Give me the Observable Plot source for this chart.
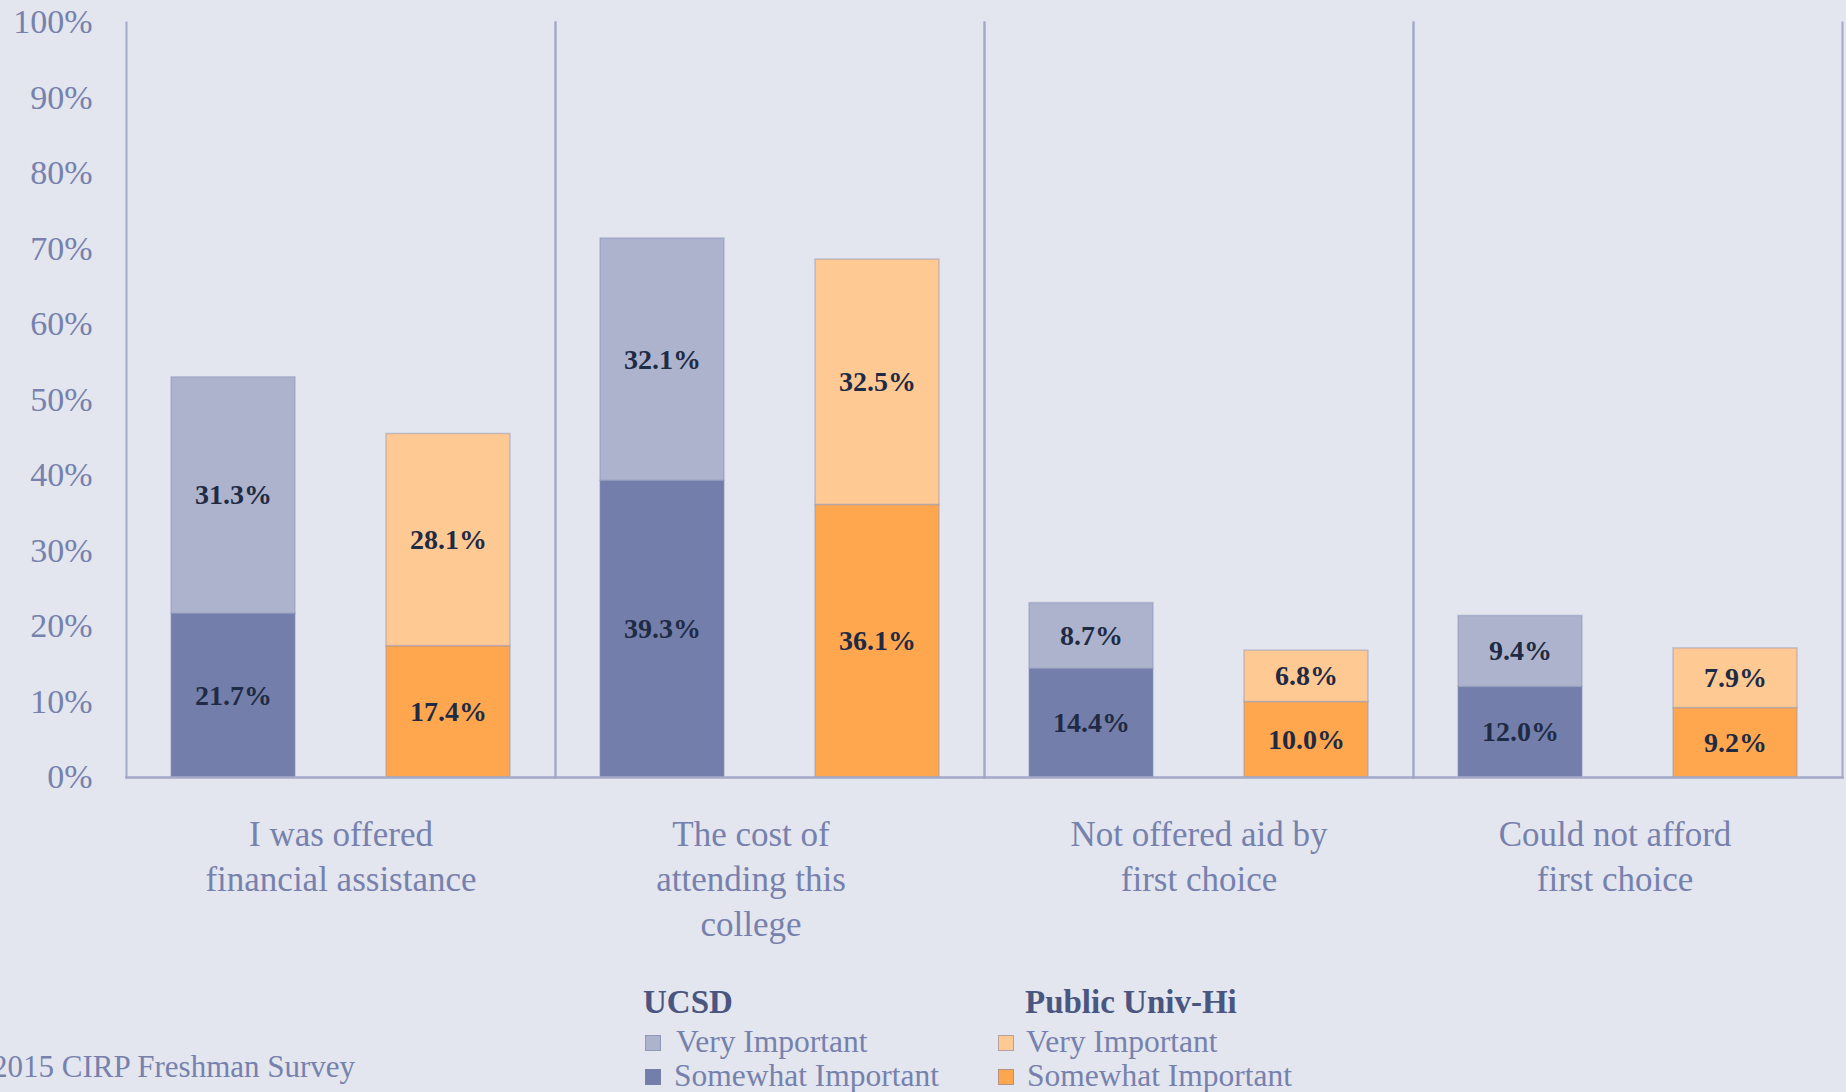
<!DOCTYPE html>
<html>
<head>
<meta charset="utf-8">
<script src="https://cdn.jsdelivr.net/npm/d3@7"></script>
<script src="https://cdn.jsdelivr.net/npm/@observablehq/plot@0.6"></script>
<style>
  html, body { margin: 0; padding: 0; background: #E3E6EE; overflow: hidden; }
  body { width: 1846px; height: 1092px; font-family: "Liberation Serif", serif; }
  #legend { position: relative; width: 1846px; height: 132px; color: #7681AD; }
  #legend div { position: absolute; white-space: nowrap; }
  .hdr { font-weight: bold; font-size: 33px; color: #4A5580; line-height: 36px; }
  .item { font-size: 31.5px; line-height: 34px; }
  .sw { width: 16px; height: 16px; box-sizing: border-box; border: 1px solid rgba(120,130,170,0.55); }
  .cap { font-size: 31px; line-height: 36px; }
</style>
</head>
<body>
<div id="chart"></div>
<div id="legend"></div>
<script>
const categories = [
  "I was offered\nfinancial assistance",
  "The cost of\nattending this\ncollege",
  "Not offered aid by\nfirst choice",
  "Could not afford\nfirst choice"
];
const schools = ["UCSD", "Public Univ-Hi"];
const levels = ["Somewhat Important", "Very Important"];
const ucsdSomewhat = [21.7, 39.3, 14.4, 12.0];
const ucsdVery = [31.3, 32.1, 8.7, 9.4];
const publicSomewhat = [17.4, 36.1, 10.0, 9.2];
const publicVery = [28.1, 32.5, 6.8, 7.9];
const yTicks = [0, 10, 20, 30, 40, 50, 60, 70, 80, 90, 100];

const colorKeys = ["UCSD|Somewhat Important", "UCSD|Very Important", "Public Univ-Hi|Somewhat Important", "Public Univ-Hi|Very Important"];
const colorRange = ["#737FAA", "#ADB3CC", "#FFA74F", "#FFC994"];

const series = {
  "UCSD": {"Somewhat Important": ucsdSomewhat, "Very Important": ucsdVery},
  "Public Univ-Hi": {"Somewhat Important": publicSomewhat, "Very Important": publicVery}
};
const rows = [];
categories.forEach((c, i) => {
  schools.forEach(s => {
    levels.forEach(l => {
      rows.push({category: c, school: s, level: l, key: s + "|" + l, value: series[s][l][i]});
    });
  });
});

const lineColor = "#A3A9C6";
const textColor = "#7681AD";
// small horizontal nudges of the category labels (layout only)
const labelNudge = [0, -19, 0, -13];

const categoryLabelMarks = categories.map((c, i) =>
  Plot.text([c], {
    fx: d => d, text: d => d, frameAnchor: "bottom", lineAnchor: "top",
    dy: 36, dx: labelNudge[i], fontSize: 35, lineHeight: 1.29, fill: textColor
  })
);

const chart = Plot.plot({
  width: 1846,
  height: 960,
  marginLeft: 125,
  marginRight: 4,
  marginTop: 22,
  marginBottom: 183,
  style: {background: "#E3E6EE", fontFamily: "Liberation Serif, serif", overflow: "visible"},
  fx: {domain: categories, padding: 0, label: null, axis: null},
  x: {domain: schools, paddingInner: 0.423, paddingOuter: 0.209, axis: null},
  y: {domain: [0, 100], axis: null},
  color: {domain: colorKeys, range: colorRange},
  marks: [
    Plot.barY(rows, Plot.stackY({
      fx: "category", x: "school", y: "value", z: "level", fill: "key",
      stroke: "#8A93B8", strokeOpacity: 0.45, strokeWidth: 1.5
    })),
    Plot.text(rows, Plot.stackY({
      fx: "category", x: "school", y: "value", z: "level",
      text: d => d.value.toFixed(1) + "%",
      fontSize: 28, fontWeight: "bold", fill: "#1F2B45"
    })),
    Plot.frame({anchor: "left", stroke: lineColor, strokeWidth: 2}),
    Plot.frame({anchor: "right", stroke: lineColor, strokeWidth: 2}),
    Plot.frame({anchor: "bottom", stroke: lineColor, strokeWidth: 2.5}),
    Plot.axisY({ticks: yTicks, tickFormat: d => d + "%", tickSize: 0, tickPadding: 34, fontSize: 34, fill: textColor, label: null}),
    ...categoryLabelMarks
  ]
});
document.getElementById("chart").appendChild(chart);

// Legend (HTML, below the SVG)
const legend = document.getElementById("legend");
const legendGroups = [
  {title: schools[0], x: 643, sw: 645, tx: [676, 674], keys: [colorKeys[1], colorKeys[0]]},
  {title: schools[1], x: 1025, sw: 998, tx: [1026, 1027], keys: [colorKeys[3], colorKeys[2]]}
];
const itemLabels = [levels[1], levels[0]];
const colorOf = k => colorRange[colorKeys.indexOf(k)];
legendGroups.forEach(g => {
  const h = document.createElement("div");
  h.className = "hdr"; h.textContent = g.title;
  h.style.left = g.x + "px"; h.style.top = (42 - 18) + "px";
  legend.appendChild(h);
  g.keys.forEach((k, j) => {
    const cy = j === 0 ? 82 : 116;
    const sq = document.createElement("div");
    sq.className = "sw"; sq.style.background = colorOf(k);
    sq.style.left = g.sw + "px"; sq.style.top = (cy - 7) + "px";
    legend.appendChild(sq);
    const t = document.createElement("div");
    t.className = "item"; t.textContent = itemLabels[j];
    t.style.left = g.tx[j] + "px"; t.style.top = (cy - 17) + "px";
    legend.appendChild(t);
  });
});
const cap = document.createElement("div");
cap.className = "cap"; cap.textContent = "2015 CIRP Freshman Survey";
cap.style.left = "-8px"; cap.style.top = (107 - 18) + "px";
legend.appendChild(cap);
</script>
</body>
</html>
